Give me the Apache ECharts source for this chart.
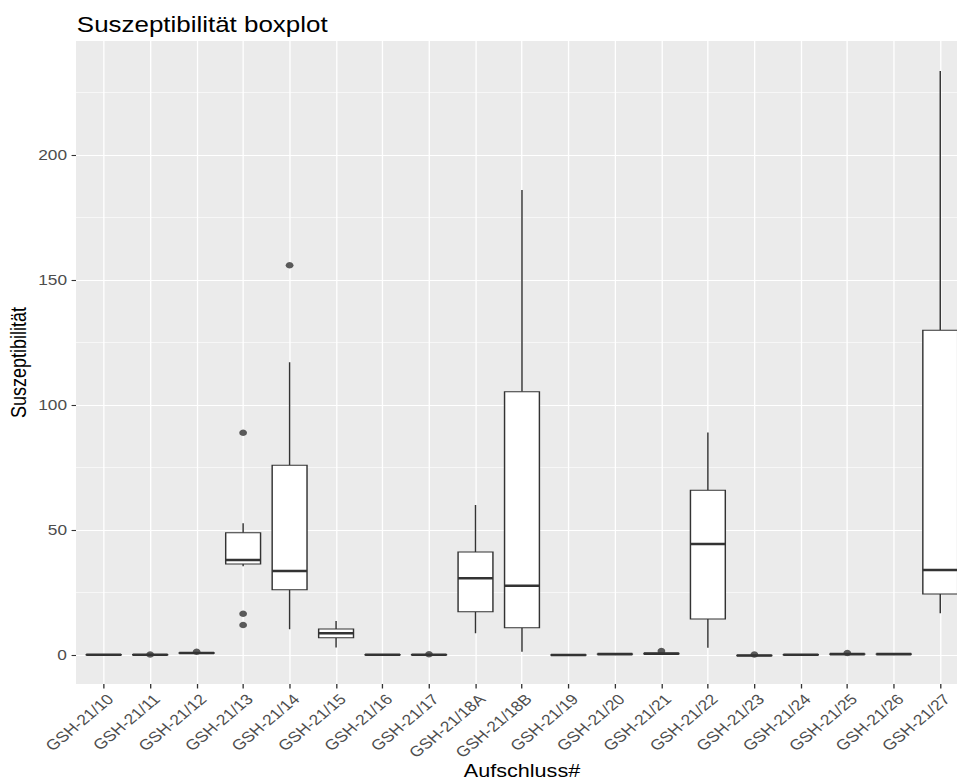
<!DOCTYPE html>
<html>
<head>
<meta charset="utf-8">
<script src="https://cdn.jsdelivr.net/npm/echarts@6/dist/echarts.min.js"></script>
<style>
html,body{margin:0;padding:0;background:#fff;overflow:hidden}
#wrap{width:957px;height:780px;overflow:hidden}
#c{width:797px;height:780px;transform:scaleX(1.20075);transform-origin:0 0}
</style>
</head>
<body>
<div id="wrap"><div id="c"></div></div>
<script>
const categories = ['GSH-21/10','GSH-21/11','GSH-21/12','GSH-21/13','GSH-21/14','GSH-21/15','GSH-21/16','GSH-21/17','GSH-21/18A','GSH-21/18B','GSH-21/19','GSH-21/20','GSH-21/21','GSH-21/22','GSH-21/23','GSH-21/24','GSH-21/25','GSH-21/26','GSH-21/27'];
const whiskerLow  = [0.0, 0.0, 0.6, 35.5, 10.3, 3.0, 0.0, 0.0, 8.7, 1.3, -0.2, 0.2, 0.3, 2.9, -0.4, 0.0, 0.2, 0.2, 16.7];
const q1          = [0.05, 0.05, 0.7, 36.4, 26.1, 6.9, 0.05, 0.05, 17.3, 10.9, -0.1, 0.3, 0.45, 14.4, -0.3, 0.05, 0.3, 0.3, 24.4];
const median      = [0.1, 0.1, 0.8, 38.0, 33.6, 8.7, 0.1, 0.1, 30.7, 27.7, 0.0, 0.35, 0.55, 44.4, -0.2, 0.1, 0.35, 0.35, 34.0];
const q3          = [0.15, 0.15, 0.9, 48.9, 75.9, 10.4, 0.15, 0.15, 41.2, 105.3, 0.05, 0.4, 0.65, 65.9, -0.1, 0.15, 0.4, 0.4, 129.9];
const whiskerHigh = [0.2, 0.2, 1.0, 52.7, 117.1, 13.6, 0.2, 0.2, 60.0, 186.0, 0.1, 0.5, 0.8, 89.0, 0.0, 0.2, 0.5, 0.5, 233.6];
const outlierCategory = ['GSH-21/11','GSH-21/12','GSH-21/13','GSH-21/13','GSH-21/13','GSH-21/14','GSH-21/17','GSH-21/21','GSH-21/23','GSH-21/25'];
const outlierValue    = [0.2, 1.3, 88.9, 16.5, 12.0, 155.9, 0.3, 1.6, 0.2, 0.8];
const yTicks = [0, 50, 100, 150, 200];

const FONT = '"Liberation Sans", Arial, sans-serif';
const Y_MIN = -11.6, Y_MAX = 245.6;

const boxData = categories.map((c, i) => [i, whiskerLow[i], q1[i], median[i], q3[i], whiskerHigh[i]]);
const outlierData = outlierCategory.map((c, i) => [categories.indexOf(c), outlierValue[i]]);

const chart = echarts.init(document.getElementById('c'), null, {renderer: 'svg'});
chart.setOption({
  animation: false,
  backgroundColor: '#ffffff',
  title: {
    text: 'Suszeptibilität boxplot',
    left: 64, top: 13, padding: 0,
    textStyle: {fontFamily: FONT, fontSize: 21.6, fontWeight: 'normal', color: '#000'}
  },
  grid: [
    {left: 63.3, width: 742.9, top: 41, bottom: 96, show: true, backgroundColor: '#EBEBEB', borderWidth: 0, outerBoundsMode: 'none', containLabel: false},
    {left: 86.36, width: 696.7, top: 41, bottom: 96, show: false, outerBoundsMode: 'none', containLabel: false}
  ],
  xAxis: [
    {gridIndex: 0, type: 'value', show: false, min: 0, max: 1},
    {
      gridIndex: 1, type: 'category', data: categories, boundaryGap: false,
      axisLine: {show: false, onZero: false},
      axisTick: {show: true, length: 4.5, lineStyle: {color: '#333', width: 1.1}},
      axisLabel: {rotate: 45, margin: 7, verticalAlign: 'top', fontFamily: FONT, fontSize: 14.6, color: '#4D4D4D', interval: 0},
      splitLine: {show: true, lineStyle: {color: '#fff', width: 1.1}},
      name: 'Aufschluss#', nameLocation: 'middle', nameGap: 78, nameMoveOverlap: false,
      nameTextStyle: {fontFamily: FONT, fontSize: 18, color: '#000'}
    }
  ],
  yAxis: [
    {
      gridIndex: 0, type: 'value', min: Y_MIN, max: Y_MAX, splitNumber: 5,
      axisLine: {show: false, onZero: false},
      axisTick: {show: true, length: 3.7, lineStyle: {color: '#333', width: 1.1}, customValues: yTicks},
      axisLabel: {margin: 7.5, fontFamily: FONT, fontSize: 14.4, color: '#4D4D4D', customValues: yTicks},
      splitLine: {show: true, lineStyle: {color: '#fff', width: 1.1}},
      minorTick: {show: false, splitNumber: 2},
      minorSplitLine: {show: true, lineStyle: {color: '#fff', width: 0.55}},
      name: 'Suszeptibilität', nameLocation: 'middle', nameGap: 39, nameRotate: 90, nameMoveOverlap: false,
      nameTextStyle: {fontFamily: FONT, fontSize: 18, color: '#000'}
    },
    {gridIndex: 1, type: 'value', min: Y_MIN, max: Y_MAX, show: false, splitLine: {show: false}, axisLine: {onZero: false}}
  ],
  series: [
    {
      type: 'custom',
      xAxisIndex: 1, yAxisIndex: 1,
      data: boxData,
      encode: {x: 0, y: [1, 2, 3, 4, 5]},
      renderItem: function (params, api) {
        const i = api.value(0);
        const lo = api.coord([i, api.value(1)]);
        const b1 = api.coord([i, api.value(2)]);
        const md = api.coord([i, api.value(3)]);
        const b3 = api.coord([i, api.value(4)]);
        const hi = api.coord([i, api.value(5)]);
        const bw = api.size([1, 0])[0] * 0.75;
        const x = md[0];
        const st = {stroke: '#333333', lineWidth: 1.2, fill: null};
        return {
          type: 'group',
          children: [
            {type: 'line', shape: {x1: x, y1: hi[1], x2: x, y2: b3[1]}, style: st},
            {type: 'line', shape: {x1: x, y1: b1[1], x2: x, y2: lo[1]}, style: st},
            {type: 'rect', shape: {x: x - bw / 2, y: b3[1], width: bw, height: b1[1] - b3[1]}, style: {fill: '#ffffff', stroke: '#333333', lineWidth: 1.2}},
            {type: 'line', shape: {x1: x - bw / 2, y1: md[1], x2: x + bw / 2, y2: md[1]}, style: {stroke: '#333333', lineWidth: 2.6}}
          ]
        };
      }
    },
    {
      type: 'scatter',
      xAxisIndex: 1, yAxisIndex: 1,
      data: outlierData,
      symbol: 'circle', symbolSize: 6.5,
      itemStyle: {color: '#333333'}
    }
  ]
});
</script>
</body>
</html>
